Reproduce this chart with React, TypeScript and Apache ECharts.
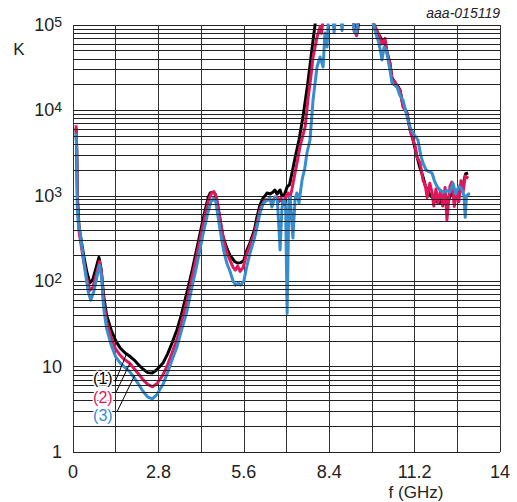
import React, { useEffect, useRef } from 'react';
import * as echarts from 'echarts';

const FONT = '"Liberation Sans", Arial, Helvetica, sans-serif';

// x tick labels (GHz) shown every 2.8; grid every 1.4
const xLabelTicks = [0, 2.8, 5.6, 8.4, 11.2, 14];
const yDecades = [1, 10, 100, 1000, 10000, 100000];
const minorMultipliers = [2, 3, 4, 5, 6, 7, 8, 9];
const seriesNames = ['(1)', '(2)', '(3)'];
const seriesColors = ['#000000', '#e3165b', '#368dd0'];

// curve (1) [f GHz, K]
const curve1: [number, number][] = [
  [0.1, 6200], [0.12, 3500], [0.15, 900], [0.2, 420], [0.27, 300], [0.35, 200], [0.45, 130], [0.55, 95],
  [0.65, 105], [0.75, 140], [0.85, 190], [0.92, 140], [1.0, 70], [1.1, 40], [1.25, 27], [1.4, 20],
  [1.55, 16.5], [1.7, 14.5], [1.85, 13.3], [2.0, 12], [2.15, 10.5], [2.3, 9.3], [2.45, 8.5], [2.6, 8.4],
  [2.75, 9.2], [2.95, 11], [3.1, 14], [3.25, 19], [3.41, 27], [3.55, 40], [3.74, 75], [3.9, 130],
  [4.07, 250], [4.26, 520], [4.43, 950], [4.5, 1080], [4.6, 1100], [4.66, 1050], [4.75, 750], [4.85, 450],
  [4.92, 330], [5.05, 240], [5.15, 200], [5.3, 170], [5.4, 163], [5.5, 165], [5.6, 175], [5.7, 230],
  [5.8, 280], [5.95, 400], [6.03, 560], [6.13, 780], [6.23, 940], [6.3, 1000], [6.36, 1080], [6.46, 1050],
  [6.55, 1100], [6.62, 1170], [6.69, 1050], [6.79, 1170], [6.85, 1000], [6.92, 1000], [7.02, 1270], [7.1, 1350],
  [7.18, 1850], [7.3, 3000], [7.41, 4500], [7.54, 8400], [7.7, 21000], [7.87, 66000], [7.95, 110000], [8.1, 160000],
  [9.15, 160000], [9.25, 85000], [9.32, 80000], [9.42, 160000], [9.75, 160000], [9.87, 100000], [10.0, 80000], [10.13, 66700],
  [10.23, 62000], [10.3, 47000], [10.39, 36000], [10.46, 24000], [10.56, 21000], [10.66, 19000], [10.72, 17300], [10.82, 11500],
  [10.95, 9330], [11.05, 6000], [11.15, 4500], [11.28, 2850], [11.38, 2100], [11.48, 1650], [11.55, 1300], [11.64, 1150],
  [11.72, 1000], [11.8, 950], [11.9, 870], [12.0, 820], [12.1, 900], [12.2, 1000], [12.3, 850], [12.4, 1100],
  [12.5, 950], [12.6, 1050], [12.7, 1150], [12.8, 1400], [12.87, 1800], [12.95, 1850],
];

// curve (2)
const curve2: [number, number][] = [
  [0.1, 6700], [0.12, 4000], [0.15, 800], [0.2, 380], [0.27, 260], [0.35, 170], [0.45, 110], [0.55, 78],
  [0.65, 85], [0.75, 115], [0.87, 170], [0.94, 120], [1.0, 60], [1.1, 34], [1.25, 22], [1.4, 16],
  [1.55, 13.5], [1.7, 12], [1.85, 11], [2.0, 9.5], [2.15, 8.2], [2.3, 7], [2.45, 6.2], [2.6, 5.8],
  [2.75, 6.3], [2.95, 8], [3.1, 10.5], [3.25, 14.5], [3.41, 21], [3.55, 32], [3.74, 60], [3.9, 110],
  [4.07, 210], [4.26, 450], [4.43, 850], [4.52, 1050], [4.62, 1120], [4.7, 980], [4.78, 650], [4.88, 400],
  [4.95, 290], [5.05, 215], [5.15, 175], [5.25, 145], [5.32, 135], [5.4, 150], [5.48, 130], [5.58, 145],
  [5.68, 200], [5.8, 260], [5.95, 370], [6.03, 480], [6.13, 700], [6.23, 824], [6.3, 900], [6.36, 893],
  [6.46, 900], [6.55, 880], [6.62, 960], [6.69, 968], [6.75, 850], [6.82, 940], [6.89, 780], [6.95, 940],
  [7.05, 1080], [7.1, 900], [7.18, 1200], [7.28, 1850], [7.36, 2600], [7.44, 3730], [7.53, 5000], [7.61, 6390],
  [7.7, 13200], [7.8, 25000], [7.87, 42000], [8.0, 72000], [8.1, 95000], [8.15, 80000], [8.22, 140000], [9.15, 160000],
  [9.22, 85000], [9.3, 75000], [9.38, 160000], [9.75, 160000], [9.87, 100000], [9.97, 85000], [10.05, 72000], [10.13, 60000],
  [10.23, 70000], [10.3, 47000], [10.39, 36000], [10.46, 22700], [10.56, 21500], [10.62, 19000], [10.72, 17300], [10.82, 11000],
  [10.95, 9330], [11.05, 5890], [11.15, 4500], [11.22, 3800], [11.28, 2850], [11.38, 2420], [11.48, 1500], [11.55, 1350],
  [11.61, 950], [11.7, 1400], [11.77, 1100], [11.83, 760], [11.9, 1200], [11.97, 820], [12.05, 1150], [12.12, 760],
  [12.2, 1250], [12.26, 520], [12.36, 1300], [12.42, 1450], [12.5, 750], [12.58, 1100], [12.65, 850], [12.72, 1500],
  [12.79, 1100], [12.86, 1700], [12.92, 1650], [12.96, 1600],
];

// curve (3)
const curve3: [number, number][] = [
  [0.1, 5400], [0.12, 3500], [0.14, 700], [0.18, 450], [0.23, 380], [0.3, 240], [0.4, 130], [0.5, 75],
  [0.58, 60], [0.68, 75], [0.78, 110], [0.87, 155], [0.94, 110], [1.0, 50], [1.1, 28], [1.25, 18],
  [1.4, 13], [1.55, 11], [1.7, 9.8], [1.85, 8.8], [2.0, 7.5], [2.15, 6.2], [2.3, 5.1], [2.45, 4.4],
  [2.6, 4.2], [2.75, 4.7], [2.95, 6.2], [3.1, 8.5], [3.25, 12], [3.41, 17], [3.55, 26], [3.74, 45],
  [3.9, 85], [4.07, 160], [4.26, 350], [4.43, 650], [4.52, 850], [4.6, 930], [4.68, 850], [4.78, 500],
  [4.88, 300], [4.95, 220], [5.05, 160], [5.15, 130], [5.25, 100], [5.33, 90], [5.42, 95], [5.5, 90],
  [5.6, 100], [5.7, 150], [5.8, 210], [5.95, 320], [6.03, 420], [6.13, 630], [6.23, 800], [6.3, 850],
  [6.36, 893], [6.46, 940], [6.52, 740], [6.62, 968], [6.7, 900], [6.79, 232], [6.85, 700], [6.89, 893],
  [6.97, 800], [7.02, 42], [7.08, 900], [7.12, 968], [7.21, 321], [7.28, 900], [7.34, 1080], [7.41, 824],
  [7.51, 1530], [7.6, 2100], [7.67, 3170], [7.77, 4500], [7.87, 13200], [8.0, 32200], [8.1, 42200], [8.2, 32200],
  [8.26, 80500], [8.33, 55200], [8.38, 130000], [8.5, 140000], [8.56, 82000], [8.62, 140000], [8.78, 140000], [8.82, 86000],
  [8.88, 140000], [9.15, 160000], [9.22, 85000], [9.3, 80000], [9.38, 160000], [9.75, 160000], [9.85, 100000], [9.95, 75000],
  [10.0, 66700], [10.08, 50000], [10.13, 38900], [10.2, 55200], [10.28, 50000], [10.33, 38900], [10.39, 30000], [10.46, 20900],
  [10.62, 18800], [10.72, 15000], [10.82, 13200], [10.98, 7720], [11.08, 6000], [11.15, 5440], [11.31, 4500], [11.4, 3000],
  [11.48, 2400], [11.58, 2000], [11.7, 1900], [11.77, 1850], [11.85, 1500], [11.93, 1300], [12.03, 1170], [12.13, 1100],
  [12.26, 1150], [12.36, 1100], [12.46, 1410], [12.55, 1050], [12.65, 1300], [12.75, 1200], [12.82, 1000], [12.86, 560],
  [12.9, 1000], [12.97, 1050], [13.02, 1050],
];

// annotation: label anchor and leader line ends, in data units
const labelAnchors: [number, number][] = [[0.98, 7.35], [0.98, 4.4], [0.98, 2.64]];
const leaderStarts: [number, number][] = [[1.38, 6.6], [1.41, 5.0], [1.44, 2.94]];
const leaderEnds: [number, number][] = [[1.74, 13.7], [1.87, 11.0], [2.03, 8.0]];

export default function App() {
  const ref = useRef<HTMLDivElement>(null);
  useEffect(() => {
    const chart = echarts.init(ref.current!, null, { renderer: 'svg' });
    const minorLines: any[] = [];
    for (let d = 0; d < yDecades.length - 1; d++) {
      for (const m of minorMultipliers) minorLines.push({ yAxis: m * yDecades[d] });
    }
    const curves = [curve1, curve2, curve3];
    chart.setOption({
      animation: false,
      grid: { left: 73, top: 25, right: 17, bottom: 50, containLabel: false },
      xAxis: {
        type: 'value', min: 0, max: 14, interval: 1.4,
        axisLine: { show: false }, axisTick: { show: false },
        splitLine: { show: true, lineStyle: { color: '#333', width: 1 } },
        axisLabel: {
          margin: 11, fontSize: 18, color: '#222', fontFamily: FONT, showMinLabel: true, showMaxLabel: true,
          formatter: (v: number) => {
            const r = parseFloat(v.toFixed(1));
            return xLabelTicks.some((t) => Math.abs(t - r) < 1e-6) ? String(r) : '';
          },
        },
      },
      yAxis: {
        type: 'log', logBase: 10, min: 1, max: 100000,
        axisLine: { show: false }, axisTick: { show: false },
        splitLine: { show: true, lineStyle: { color: '#222', width: 1 } },
        axisLabel: {
          margin: 11, color: '#222', fontFamily: FONT, fontSize: 18,
          formatter: (v: number) => {
            const e = Math.round(Math.log10(v));
            if (e === 0) return '1';
            if (e === 1) return '10';
            return '{b|10}{s|' + e + '}';
          },
          rich: {
            b: { fontSize: 18, fontFamily: FONT, color: '#222' },
            s: { fontSize: 14, fontFamily: FONT, color: '#222', padding: [0, 0, 7, 0] },
          },
        },
      },
      series: [
        {
          type: 'line', name: 'grid', data: [], z: 1, silent: true, showSymbol: false,
          markLine: {
            silent: true, symbol: 'none', label: { show: false },
            lineStyle: { color: '#222', width: 1, type: 'solid' },
            data: minorLines,
          },
        },
        ...curves.map((c, i) => ({
          type: 'line', name: seriesNames[i], data: c, z: 2 + i, showSymbol: false, symbol: 'none',
          lineStyle: { color: seriesColors[i], width: 3, join: 'round' }, itemStyle: { color: seriesColors[i] },
          clip: true,
          markLine: i === 0 ? {
            silent: true, symbol: 'none', label: { show: false },
            lineStyle: { color: '#000', width: 1, type: 'solid' },
            data: leaderStarts.map((s, k) => [{ coord: s }, { coord: leaderEnds[k] }]),
          } : undefined,
        })),
      ],
    });
    const graphics: any[] = labelAnchors.map((a, i) => {
      const p = chart.convertToPixel({ gridIndex: 0 }, a) as number[];
      return {
        type: 'text', x: p[0], y: p[1], z: 20,
        style: {
          text: seriesNames[i], fill: seriesColors[i], font: '16px ' + FONT,
          align: 'center', verticalAlign: 'middle', stroke: '#fff', lineWidth: 3,
        },
      };
    });
    graphics.push(
      { type: 'text', x: 19, y: 49, style: { text: 'K', fill: '#222', font: '17px ' + FONT, align: 'center', verticalAlign: 'middle' } },
      { type: 'text', x: 416, y: 492, style: { text: 'f (GHz)', fill: '#222', font: '17px ' + FONT, align: 'center', verticalAlign: 'middle' } },
      { type: 'text', x: 500, y: 13, style: { text: 'aaa-015119', fill: '#222', font: 'italic 14px ' + FONT, align: 'right', verticalAlign: 'middle' } },
    );
    chart.setOption({ graphic: graphics });
    return () => chart.dispose();
  }, []);
  return <div ref={ref} style={{ position: 'fixed', left: 0, top: 0, width: 517, height: 502, background: '#fff' }} />;
}
